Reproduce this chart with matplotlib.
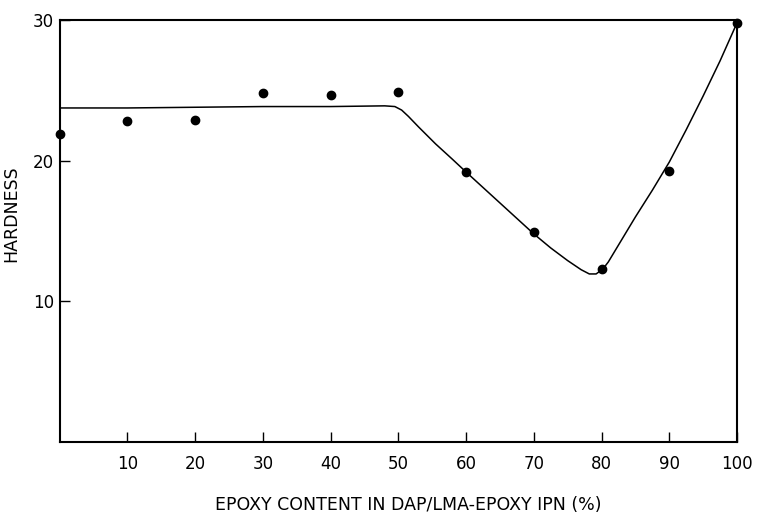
import matplotlib
matplotlib.use("Agg")
import matplotlib.pyplot as plt

# measured data points
epoxy_pct = [0, 10, 20, 30, 40, 50, 60, 70, 80, 90, 100]
hardness = [21.9, 22.8, 22.9, 24.8, 24.7, 24.9, 19.2, 14.9, 12.3, 19.3, 29.8]

# drawn trend curve
curve_x = [0, 10, 20, 30, 40, 48, 49.5, 50.5, 51.5, 53, 55.5, 58, 60, 62.5, 65, 67.5, 70,
           72.5, 75, 77, 78.2, 79.2, 80.2, 81, 82, 83.5, 85, 87.5, 90, 92.5, 95, 97.5, 100]
curve_y = [23.75, 23.75, 23.8, 23.85, 23.85, 23.9, 23.85, 23.6, 23.15, 22.4, 21.2, 20.1, 19.2,
           18.1, 17.0, 15.9, 14.8, 13.8, 12.9, 12.25, 11.95, 11.95, 12.3, 12.8, 13.6, 14.8, 16.0,
           17.9, 19.9, 22.2, 24.6, 27.1, 29.8]

x_ticks = [10, 20, 30, 40, 50, 60, 70, 80, 90, 100]
y_ticks = [10, 20, 30]

plt.rcParams['font.family'] = ['DejaVu Sans']
fig = plt.figure(figsize=(7.57, 5.14), dpi=100)
ax = fig.add_axes([0.0786, 0.140, 0.895, 0.821])

ax.plot(curve_x, curve_y, color='black', lw=1.1, solid_capstyle='round', solid_joinstyle='round')
ax.plot(epoxy_pct, hardness, 'o', color='black', ms=6, clip_on=False, zorder=3)

ax.set_xlim(0, 100)
ax.set_ylim(0, 30)
ax.set_xticks(x_ticks)
ax.set_xticklabels([str(t) for t in x_ticks])
ax.set_yticks(y_ticks)
ax.set_yticklabels([str(t) for t in y_ticks])
ax.tick_params(axis='both', direction='in', length=7, width=1.0, labelsize=12, colors='black')
ax.tick_params(axis='x', pad=9)
ax.tick_params(axis='y', pad=4)
for s in ax.spines.values():
    s.set_linewidth(1.5)

ax.set_xlabel('EPOXY CONTENT IN DAP/LMA-EPOXY IPN (%)', fontsize=12.5)
ax.xaxis.set_label_coords(0.515, -0.128)
ax.set_ylabel('HARDNESS', fontsize=12.5)
ax.yaxis.set_label_coords(-0.058, 0.54)

fig.savefig('out.png', dpi=100)
